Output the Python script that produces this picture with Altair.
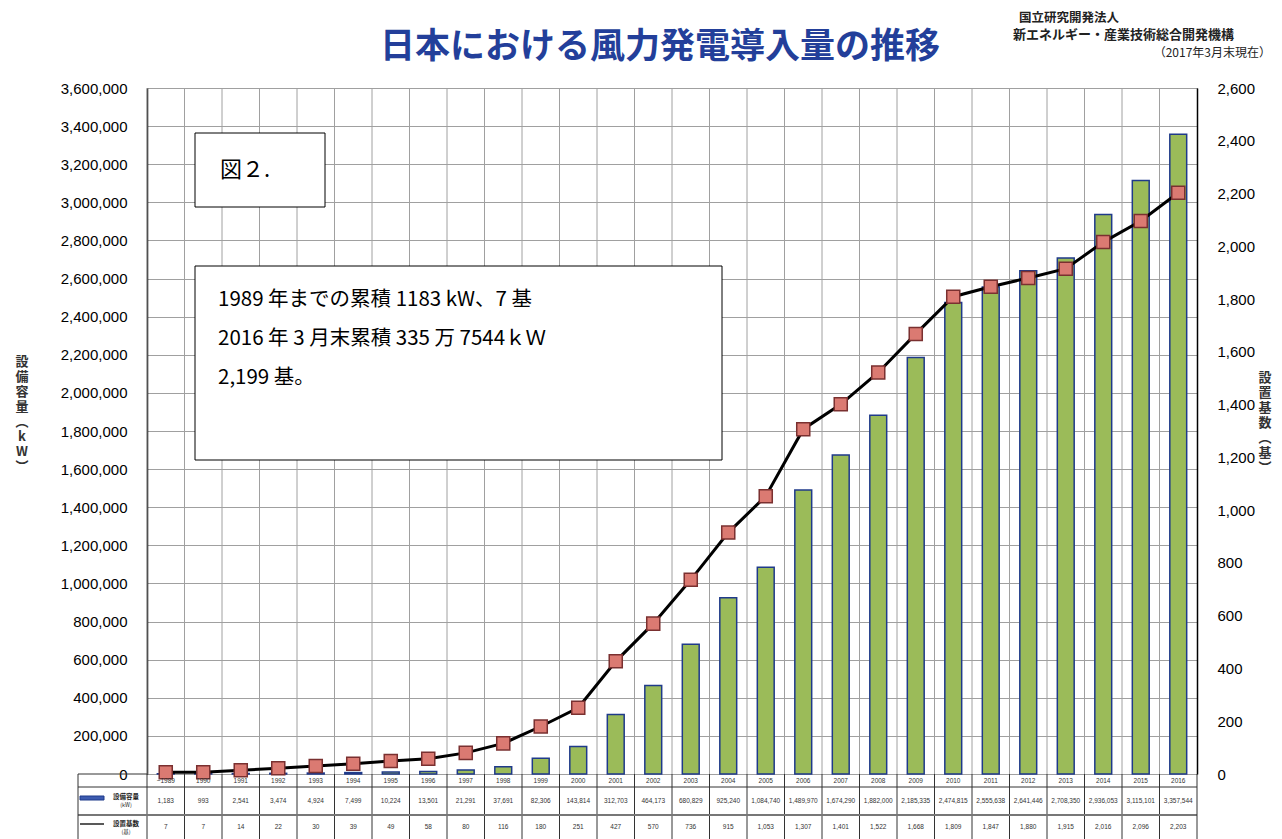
import altair as alt
import pandas as pd

years = ["~1989", "1990", "1991", "1992", "1993", "1994", "1995", "1996", "1997",
         "1998", "1999", "2000", "2001", "2002", "2003", "2004", "2005", "2006",
         "2007", "2008", "2009", "2010", "2011", "2012", "2013", "2014", "2015", "2016"]
capacity_kw = [1183, 993, 2541, 3474, 4924, 7499, 10224, 13501, 21291,
               37691, 82306, 143814, 312703, 464173, 680829, 925240, 1084740, 1489970,
               1674290, 1882000, 2185335, 2474815, 2555638, 2641446, 2708350, 2936053, 3115101, 3357544]
units = [7, 7, 14, 22, 30, 39, 49, 58, 80,
         116, 180, 251, 427, 570, 736, 915, 1053, 1307,
         1401, 1522, 1668, 1809, 1847, 1880, 1915, 2016, 2096, 2203]

left_ticks = list(range(0, 3600001, 200000))
right_ticks = list(range(0, 2601, 200))

title_text = "日本における風力発電導入量の推移"
source_lines = ["国立研究開発法人", "新エネルギー・産業技術総合開発機構", "（2017年3月末現在）"]
note_lines = ["1989 年までの累積 1183 kW、7 基", "2016 年 3 月末累積 335 万 7544ｋＷ", "2,199 基。"]
fig_label = "図２."
left_title_chars = ["設", "備", "容", "量", "︵", "k", "W", "︶"]
right_title_chars = ["設", "置", "基", "数", "︵", "基", "︶"]

df = pd.DataFrame({"year": years, "capacity": capacity_kw, "units": units})
df["cap_label"] = [f"{v:,}" for v in capacity_kw]
df["unit_label"] = [f"{v:,}" for v in units]

W, H = 1050, 686
JP = "Noto Sans CJK JP"
one = pd.DataFrame({"k": [0]})

xscale = alt.Scale(domain=years, paddingInner=0, paddingOuter=0)
X = alt.X("year:N", scale=xscale, axis=None, sort=years)
Xedge = alt.X("year:N", scale=xscale, axis=None, sort=years, bandPosition=0)

base = alt.Chart(df)


def box(x1, x2, y1, y2, fill="white", stroke="black", sw=1):
    return alt.Chart(one).mark_rect(fill=fill, stroke=stroke, strokeWidth=sw).encode(
        x=alt.value(x1), x2=alt.value(x2), y=alt.value(y1), y2=alt.value(y2))


def hline(x1, x2, y, color="black", sw=1):
    return alt.Chart(one).mark_rule(color=color, strokeWidth=sw).encode(
        x=alt.value(x1), x2=alt.value(x2), y=alt.value(y))


def vline(x, y1, y2, color="black", sw=1):
    return alt.Chart(one).mark_rule(color=color, strokeWidth=sw).encode(
        x=alt.value(x), y=alt.value(y1), y2=alt.value(y2))


def label(txt, x, y, size, **kw):
    return alt.Chart(one).mark_text(text=txt, fontSize=size, **kw).encode(
        x=alt.value(x), y=alt.value(y))


vgrid = base.mark_rule(color="#a0a0a0", strokeWidth=1).encode(
    x=Xedge, y=alt.value(0), y2=alt.value(H))

bars = base.mark_bar(width=alt.RelativeBandSize(band=0.45), color="#9BBB59",
                     stroke="#1F3A8A", strokeWidth=1.5).encode(
    x=X,
    y=alt.Y("capacity:Q", scale=alt.Scale(domain=[0, 3600000], nice=False, zero=True),
            axis=alt.Axis(values=left_ticks, format=",.0f", labelFontSize=15,
                          labelFont="Liberation Sans", labelColor="black", ticks=False,
                          labelPadding=20, domainColor="black", domainWidth=1.5,
                          gridColor="#a0a0a0", gridWidth=1, title=None)))

line = base.mark_line(color="black", strokeWidth=3,
                      point=alt.OverlayMarkDef(shape="square", size=170, filled=True,
                                               fill="#DB7A72", stroke="#7A3030",
                                               strokeWidth=1.5, opacity=1)).encode(
    x=X,
    y=alt.Y("units:Q", scale=alt.Scale(domain=[0, 2600], nice=False, zero=True),
            axis=alt.Axis(orient="right", values=right_ticks, format=",.0f", labelFontSize=15,
                          labelFont="Liberation Sans", labelColor="black", ticks=False,
                          labelPadding=20, domainColor="black", domainWidth=1.5,
                          grid=False, title=None)))

# table
tv = base.mark_rule(color="#333333", strokeWidth=1).encode(
    x=Xedge, y=alt.value(H), y2=alt.value(H + 70))
year_txt = base.mark_text(fontSize=6.5, font="Liberation Sans", color="#333").encode(
    x=X, y=alt.value(H + 7), text="year:N")
cap_txt = base.mark_text(fontSize=6.5, font="Liberation Sans", color="#333").encode(
    x=X, y=alt.value(H + 27), text="cap_label:N")
unit_txt = base.mark_text(fontSize=6.5, font="Liberation Sans", color="#333").encode(
    x=X, y=alt.value(H + 53), text="unit_label:N")

TL = -69
table_lines = [
    hline(TL, W, H + 13, "#333"),
    hline(TL, W, H + 41, "#777", 2),
    vline(TL, H, H + 70, "#333"),
    vline(W, H, H + 70, "#333"),
    hline(TL, 0, H, "#333"),
]
legend_bits = [
    box(TL + 2, TL + 26, H + 22, H + 26, fill="#3D5BB0", stroke="#1F3A8A"),
    label("設備容量", TL + 48, H + 23, 6.5, font=JP, fontWeight="bold", color="#222"),
    label("(kW)", TL + 48, H + 31, 5.5, font=JP, color="#222"),
    hline(TL + 2, TL + 26, H + 50, "#222", 1.5),
    label("設置基数", TL + 48, H + 50, 6.5, font=JP, fontWeight="bold", color="#222"),
    label("(基)", TL + 48, H + 58, 5.5, font=JP, color="#222"),
]

# annotations
title = label(title_text, 513, -41, 35, font=JP, fontWeight="bold", color="#233F9A")
src1 = label(source_lines[0], 872, -70, 12.5, font=JP, fontWeight="bold", align="left", color="#222")
src2 = label(source_lines[1], 866, -53, 13, font=JP, fontWeight="bold", align="left", color="#222")
src3 = label(source_lines[2], 1124, -35, 12, font=JP, align="right", color="#222")

ytitle_l = [label(c, -125, 274 + 15 * i, 13, font=JP, fontWeight="bold", color="#333")
            for i, c in enumerate(left_title_chars)]
ytitle_r = [label(c, 1118, 290 + 15 * i, 13, font=JP, fontWeight="bold", color="#333")
            for i, c in enumerate(right_title_chars)]

box1 = box(48, 178, 45, 119)
fig_txt = label(fig_label, 73, 82, 22, font=JP, align="left", color="black")
box2 = box(48, 575, 178, 372)
notes = [label(t, 71, yy, 20.5, font=JP, align="left", color="black")
         for t, yy in zip(note_lines, [212, 251, 290])]

layers = [vgrid, bars, line, tv, year_txt, cap_txt, unit_txt] + table_lines + legend_bits + \
         [title, src1, src2, src3] + ytitle_l + ytitle_r + [box1, fig_txt, box2] + notes

chart = alt.layer(*layers).resolve_scale(y="independent").properties(
    width=W, height=H,
    autosize=alt.AutoSizeParams(type="none"),
    padding={"left": 139, "top": 80, "right": 77, "bottom": 65},
    background="white",
).configure_view(stroke="#888888")

chart.save("out.html", embed_options={"renderer": "svg", "actions": False})
